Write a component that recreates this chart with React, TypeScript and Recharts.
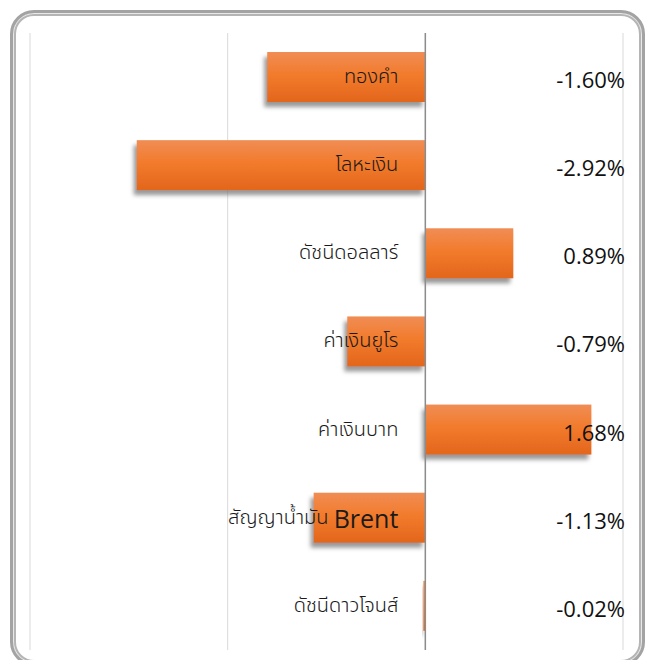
import { BarChart, Bar, XAxis, YAxis, CartesianGrid, ReferenceLine, LabelList } from 'recharts';

// categories top to bottom, % change
const categories = [
  'ทองคำ',
  'โลหะเงิน',
  'ดัชนีดอลลาร์',
  'ค่าเงินยูโร',
  'ค่าเงินบาท',
  'สัญญาน้ำมัน Brent',
  'ดัชนีดาวโจนส์',
];
const changes = [-1.6, -2.92, 0.89, -0.79, 1.68, -1.13, -0.02];
const xTicks = [-4, -2, 0, 2];

const W = 649;
const H = 660;
const MARGIN = { top: 33, right: 26, bottom: 10, left: 30 };

const THAI_FONT = "'Noto Sans Thai', 'Noto Sans Thai UI', Tahoma, 'DejaVu Sans', sans-serif";
const NUM_FONT = "'Open Sans', 'Noto Sans', sans-serif";

const data = categories.map((name, i) => ({ name, value: changes[i] }));

function zeroX(x: number, width: number, value: number) {
  return value < 0 ? Math.max(x, x + width) : Math.min(x, x + width);
}

function ShadowBar(props: any) {
  const { x, y, width, height } = props;
  const left = Math.min(x, x + width);
  const w = Math.abs(width);
  if (!w) return null;
  return (
    <rect
      x={left}
      y={y}
      width={w}
      height={height}
      fill="url(#barGrad)"
      filter="url(#barShadow)"
    />
  );
}

function NameLabel(props: any) {
  const { x, y, width, height, index } = props;
  const z = zeroX(x, width, changes[index]);
  const name = categories[index];
  const m = name.match(/^(.*?)([A-Za-z]+)$/);
  return (
    <text
      x={z - 27}
      y={y + height / 2}
      textAnchor="end"
      dominantBaseline="central"
      fontFamily={THAI_FONT}
      fontSize={20}
      fontWeight={300}
      fill="#1a1a1a"
    >
      {m ? (
        <>
          <tspan>{m[1]}</tspan>
          <tspan fontFamily={NUM_FONT} fontSize={25} fontWeight={400}>{m[2]}</tspan>
        </>
      ) : (
        name
      )}
    </text>
  );
}

function ValueLabel(props: any) {
  const { y, height, index } = props;
  return (
    <text
      x={W - MARGIN.right + 2}
      y={y + height / 2 + 2}
      textAnchor="end"
      dominantBaseline="central"
      fontFamily={NUM_FONT}
      fontSize={22}
      fill="#111"
    >
      {changes[index].toFixed(2) + '%'}
    </text>
  );
}

export default function App() {
  return (
    <div style={{ position: 'absolute', left: 0, top: 0, width: W, height: H, overflow: 'hidden', background: '#fff' }}>
      <div
        style={{
          position: 'absolute',
          left: 10,
          top: 10,
          width: 635,
          height: 656,
          border: '3px solid #a3a3a3',
          borderRadius: 24,
          boxShadow: 'inset 0 0 0 1px #e8e8e8, inset 0 0 0 3px #b5b5b5',
          boxSizing: 'border-box',
        }}
      />
      <BarChart
        width={W}
        height={H}
        data={data}
        layout="vertical"
        margin={MARGIN}
        style={{ position: 'absolute', left: 0, top: 0 }}
      >
        <defs>
          <linearGradient id="barGrad" x1="0" y1="0" x2="0" y2="1">
            <stop offset="0%" stopColor="#f08d55" />
            <stop offset="45%" stopColor="#f27b2c" />
            <stop offset="100%" stopColor="#e3661c" />
          </linearGradient>
          <filter id="barShadow" x="-20%" y="-20%" width="140%" height="160%">
            <feDropShadow dx={-3} dy={5} stdDeviation={2} floodColor="#777" floodOpacity={0.75} />
          </filter>
        </defs>
        <CartesianGrid horizontal={false} vertical stroke="#d9d9d9" />
        <XAxis type="number" domain={[-4, 2]} ticks={xTicks} hide />
        <YAxis type="category" dataKey="name" hide />
        <ReferenceLine x={0} stroke="#8c8c8c" strokeWidth={1.5} />
        <Bar dataKey="value" barSize={50} shape={<ShadowBar />} isAnimationActive={false}>
          <LabelList dataKey="name" content={<NameLabel />} />
          <LabelList dataKey="value" content={<ValueLabel />} />
        </Bar>
      </BarChart>
    </div>
  );
}
